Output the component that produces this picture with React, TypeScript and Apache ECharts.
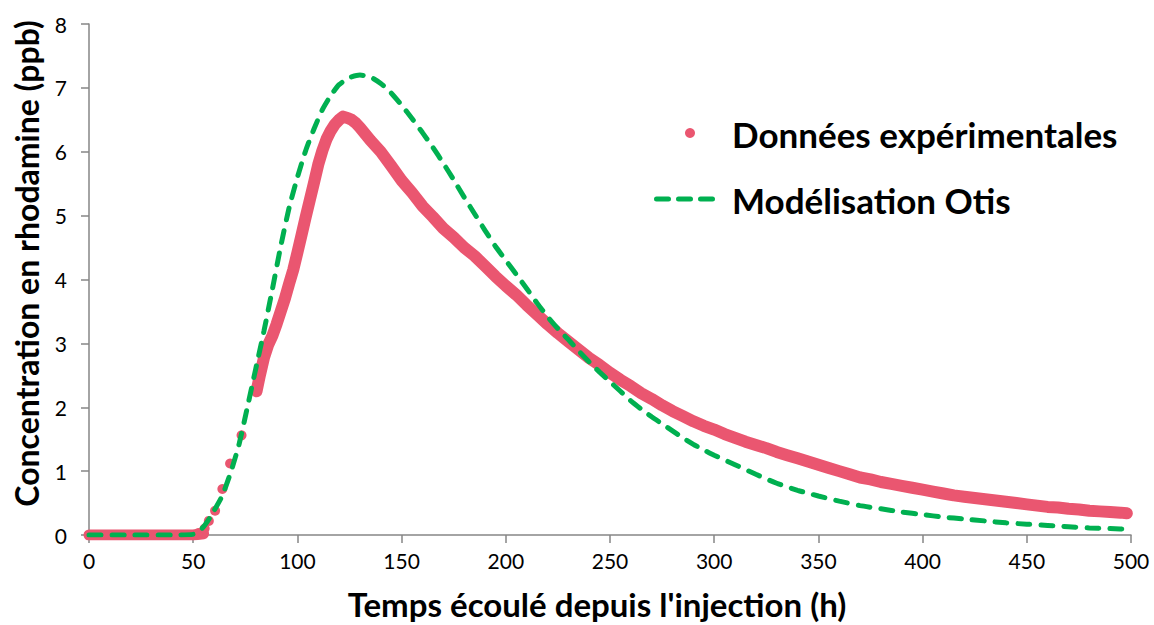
import React, { useEffect, useRef } from "react";
import * as echarts from "echarts";

const SERIES_EXP = "Données expérimentales";
const SERIES_MODEL = "Modélisation Otis";
const X_TITLE = "Temps écoulé depuis l'injection (h)";
const Y_TITLE = "Concentration en rhodamine (ppb)";

// Experimental data – baseline before the arrival of the tracer
const flatTime = [0, 10, 20, 30, 40, 50, 55];
const flatConc = [0, 0, 0, 0, 0, 0, 0.02];

// Experimental data – isolated readings on the rising limb
const sparseTime = [52.5, 55.5, 57.5, 60.5, 64, 67.7, 73.2];
const sparseConc = [0.03, 0.1, 0.22, 0.38, 0.72, 1.12, 1.56];

// Experimental data – dense record
const denseTime = [
  80.4, 82, 84, 86, 88, 90, 92, 94, 96, 98, 100, 102, 104, 106, 108, 110, 112, 114, 116, 118, 120, 122, 124,
  126, 128, 130, 135, 140, 145, 150, 155, 160, 165, 170, 175, 180, 185, 190, 195, 200, 205, 210, 215, 220,
  225, 230, 235, 240, 245, 250, 255, 260, 265, 270, 275, 280, 285, 290, 295, 300, 305, 310, 315, 320, 325,
  330, 335, 340, 345, 350, 355, 360, 365, 370, 375, 380, 385, 390, 395, 400, 405, 410, 415, 420, 425, 430,
  435, 440, 445, 450, 455, 460, 465, 470, 475, 480, 485, 490, 495, 498,
];
const denseConc = [
  2.25, 2.5, 2.78, 2.98, 3.12, 3.3, 3.5, 3.7, 3.93, 4.15, 4.42, 4.7, 4.98, 5.25, 5.52, 5.8, 6.02, 6.2, 6.33,
  6.43, 6.5, 6.55, 6.53, 6.5, 6.45, 6.38, 6.18, 6.0, 5.78, 5.55, 5.36, 5.15, 4.98, 4.8, 4.66, 4.5, 4.37, 4.21,
  4.05, 3.9, 3.76, 3.6, 3.45, 3.3, 3.16, 3.03, 2.9, 2.77, 2.66, 2.54, 2.43, 2.33, 2.22, 2.13, 2.03, 1.94, 1.86,
  1.78, 1.71, 1.65, 1.58, 1.52, 1.46, 1.41, 1.36, 1.3, 1.25, 1.2, 1.15, 1.1, 1.05, 1.0, 0.95, 0.9, 0.87, 0.83,
  0.8, 0.77, 0.74, 0.71, 0.68, 0.65, 0.62, 0.6, 0.58, 0.56, 0.54, 0.52, 0.5, 0.48, 0.46, 0.44, 0.43, 0.41, 0.4,
  0.38, 0.37, 0.36, 0.35, 0.34,
];

// OTIS model
const modelTime = [
  0, 20, 40, 50, 52, 55, 58, 60, 64, 68, 72, 76, 80, 84, 88, 92, 96, 100, 104, 108, 112, 116, 120, 125, 130,
  135, 140, 145, 150, 155, 160, 165, 170, 175, 180, 185, 190, 195, 200, 205, 210, 215, 220, 225, 230, 235,
  240, 245, 250, 255, 260, 265, 270, 275, 280, 285, 290, 295, 300, 310, 320, 330, 340, 350, 360, 370, 380,
  390, 400, 410, 420, 430, 440, 450, 460, 470, 480, 490, 500,
];
const modelConc = [
  0, 0, 0, 0.01, 0.04, 0.13, 0.27, 0.38, 0.62, 0.98, 1.42, 2.0, 2.6, 3.2, 3.85, 4.52, 5.12, 5.6, 6.02, 6.36,
  6.66, 6.88, 7.05, 7.16, 7.2, 7.17, 7.07, 6.92, 6.73, 6.52, 6.3, 6.07, 5.82, 5.56, 5.29, 5.03, 4.77, 4.52,
  4.3, 4.08, 3.86, 3.63, 3.42, 3.23, 3.06, 2.88, 2.71, 2.55, 2.4, 2.25, 2.1, 1.97, 1.85, 1.74, 1.63, 1.52,
  1.42, 1.33, 1.25, 1.1, 0.95, 0.81, 0.7, 0.61, 0.53, 0.46, 0.41, 0.36, 0.32, 0.28, 0.25, 0.22, 0.19, 0.17,
  0.15, 0.13, 0.11, 0.1, 0.09,
];

const PINK = "#EA5670";
const GREEN = "#00B050";
const FONT = "Lato, 'Open Sans', sans-serif";

const zip = (xs: number[], ys: number[]) => xs.map((x, i) => [x, ys[i]]);

export default function App() {
  const ref = useRef<HTMLDivElement>(null);

  useEffect(() => {
    if (!ref.current) return;
    const chart = echarts.init(ref.current, null, { renderer: "svg" });
    const legendText = { fontSize: 35, fontWeight: "bold", fill: "#000", fontFamily: FONT, verticalAlign: "middle" };
    chart.setOption({
      animation: false,
      backgroundColor: "#fff",
      textStyle: { fontFamily: FONT },
      grid: { left: 89, right: 23, top: 24, bottom: 89 },
      graphic: [
        { type: "circle", shape: { cx: 690, cy: 133, r: 5 }, style: { fill: PINK } },
        { type: "text", x: 732, y: 134, style: { text: SERIES_EXP, ...legendText } },
        {
          type: "line",
          shape: { x1: 656.5, y1: 199, x2: 714.5, y2: 199 },
          style: { stroke: GREEN, lineWidth: 5, lineDash: [12, 10], lineCap: "round" },
        },
        { type: "text", x: 732, y: 200, style: { text: SERIES_MODEL, ...legendText } },
      ],
      xAxis: {
        type: "value",
        min: 0,
        max: 500,
        interval: 50,
        name: X_TITLE,
        nameLocation: "middle",
        nameGap: 52,
        nameTextStyle: {
          fontSize: 33,
          fontWeight: "bold",
          color: "#000",
          fontFamily: FONT,
          padding: [0, 26, 0, 0],
        },
        axisLine: { show: true, lineStyle: { color: "#868686", width: 1.5 } },
        axisTick: { show: true, length: 8, inside: false, lineStyle: { color: "#868686", width: 1.5 } },
        axisLabel: { fontSize: 21, color: "#000", margin: 15, fontFamily: FONT },
        splitLine: { show: false },
      },
      yAxis: {
        type: "value",
        min: 0,
        max: 8,
        interval: 1,
        name: Y_TITLE,
        nameLocation: "middle",
        nameGap: 47,
        nameTextStyle: {
          fontSize: 32,
          fontWeight: "bold",
          color: "#000",
          fontFamily: FONT,
          padding: [0, 0, 0, 32],
        },
        axisLine: { show: true, lineStyle: { color: "#868686", width: 1.5 } },
        axisTick: { show: true, length: 8, inside: false, lineStyle: { color: "#868686", width: 1.5 } },
        axisLabel: { fontSize: 21, color: "#000", margin: 22, fontFamily: FONT },
        splitLine: { show: false },
      },
      series: [
        {
          name: SERIES_EXP,
          type: "line",
          data: zip(flatTime, flatConc),
          showSymbol: false,
          symbol: "none",
          lineStyle: { color: PINK, width: 11, cap: "round", join: "round" },
          itemStyle: { color: PINK },
          z: 2,
        },
        {
          name: SERIES_EXP,
          type: "scatter",
          data: zip(sparseTime, sparseConc),
          symbol: "circle",
          symbolSize: 10,
          itemStyle: { color: PINK, opacity: 1 },
          z: 2,
        },
        {
          name: SERIES_EXP,
          type: "line",
          data: zip(denseTime, denseConc),
          showSymbol: false,
          symbol: "none",
          lineStyle: { color: PINK, width: 12, cap: "round", join: "round" },
          itemStyle: { color: PINK },
          z: 2,
        },
        {
          name: SERIES_MODEL,
          type: "line",
          data: zip(modelTime, modelConc),
          showSymbol: false,
          symbol: "none",
          smooth: 0.2,
          lineStyle: { color: GREEN, width: 5, type: [12, 11], cap: "round" },
          itemStyle: { color: GREEN },
          z: 3,
        },
      ],
    });
    return () => chart.dispose();
  }, []);

  return <div ref={ref} style={{ width: 1154, height: 625, position: "absolute", left: 0, top: 0 }} />;
}
